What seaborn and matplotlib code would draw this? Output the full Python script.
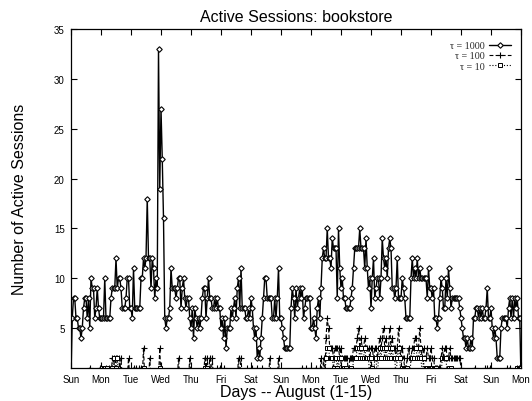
import numpy as np
import pandas as pd
import matplotlib
matplotlib.use("Agg")
import matplotlib.pyplot as plt
import seaborn as sns

# Day-of-week labels for the 15 days (Aug 1-15) plus the closing Monday
day_labels = ["Sun", "Mon", "Tue", "Wed", "Thu", "Fri", "Sat",
              "Sun", "Mon", "Tue", "Wed", "Thu", "Fri", "Sat", "Sun", "Mon"]
y_ticks = [5, 10, 15, 20, 25, 30, 35]

# Hourly active-session counts, one row of 24 per day, plus the closing sample
tau1000_by_day = [
    [0, 6, 8, 8, 6, 6, 5, 5, 4, 5, 7, 8, 8, 6, 8, 5, 10, 9, 9, 6, 7, 9, 7, 6],
    [6, 6, 6, 10, 6, 6, 6, 6, 8, 9, 9, 9, 12, 9, 10, 10, 9, 7, 7, 7, 8, 10, 10, 7],
    [7, 6, 11, 7, 7, 7, 7, 7, 10, 10, 12, 11, 12, 18, 12, 12, 9, 12, 11, 8, 10, 9, 33, 19],
    [27, 22, 16, 6, 5, 6, 6, 7, 11, 9, 9, 9, 8, 9, 10, 10, 7, 9, 10, 8, 7, 8, 8, 6],
    [5, 7, 4, 7, 6, 5, 6, 5, 6, 8, 9, 9, 6, 8, 10, 8, 8, 7, 7, 8, 7, 8, 7, 7],
    [5, 6, 4, 6, 3, 5, 5, 5, 7, 6, 7, 8, 6, 9, 10, 7, 11, 7, 7, 7, 6, 6, 7, 6],
    [8, 7, 5, 4, 5, 2, 3, 2, 4, 6, 8, 10, 10, 8, 8, 8, 8, 6, 6, 8, 6, 8, 11, 6],
    [6, 5, 4, 3, 3, 3, 3, 3, 7, 9, 8, 6, 9, 7, 8, 9, 8, 9, 6, 7, 8, 8, 8, 8],
    [5, 5, 6, 5, 4, 7, 8, 6, 9, 12, 13, 12, 12, 15, 12, 12, 11, 14, 13, 13, 13, 8, 15, 11],
    [9, 10, 8, 8, 7, 7, 7, 7, 8, 9, 11, 13, 13, 13, 13, 15, 13, 13, 13, 11, 14, 11, 9, 10],
    [7, 10, 12, 8, 9, 10, 10, 8, 10, 14, 12, 11, 12, 10, 13, 14, 13, 9, 9, 8, 9, 12, 8, 8],
    [8, 10, 9, 8, 6, 6, 6, 6, 10, 12, 10, 11, 10, 12, 10, 11, 10, 10, 10, 10, 10, 8, 11, 9],
    [9, 8, 9, 6, 6, 5, 6, 8, 10, 9, 7, 7, 10, 8, 11, 9, 7, 8, 8, 8, 8, 8, 8, 7],
    [6, 5, 4, 4, 3, 4, 3, 3, 4, 3, 6, 6, 7, 7, 6, 7, 6, 7, 6, 6, 7, 9, 6, 6],
    [7, 5, 4, 5, 4, 2, 2, 2, 5, 6, 6, 6, 6, 5, 7, 8, 6, 8, 6, 8, 7, 8, 6, 6],
]
tau1000_last = 0

tau100_by_day = [
    [0, 0, 0, 0, 0, 0, 0, 0, 0, 0, 0, 0, 0, 0, 0, 1, 0, 0, 0, 0, 0, 0, 0, 1],
    [0, 0, 0, 0, 1, 0, 1, 0, 0, 2, 2, 1, 2, 2, 2, 1, 2, 0, 0, 0, 0, 0, 2, 0],
    [0, 0, 1, 0, 1, 0, 1, 0, 1, 0, 3, 0, 0, 0, 0, 2, 0, 0, 0, 0, 0, 0, 0, 3],
    [0, 0, 0, 0, 0, 0, 0, 0, 0, 0, 0, 0, 0, 0, 2, 0, 0, 0, 0, 0, 0, 0, 0, 2],
    [0, 0, 0, 0, 0, 0, 0, 0, 0, 0, 0, 2, 1, 2, 0, 2, 0, 2, 0, 0, 0, 1, 0, 1],
    [0, 0, 1, 0, 0, 0, 0, 0, 0, 0, 0, 0, 0, 0, 2, 0, 2, 0, 0, 0, 0, 1, 0, 0],
    [0, 1, 0, 0, 0, 1, 0, 0, 0, 1, 0, 0, 0, 0, 0, 2, 0, 0, 0, 0, 0, 0, 2, 0],
    [0, 0, 0, 0, 0, 0, 0, 0, 0, 0, 0, 0, 0, 0, 0, 0, 0, 1, 0, 0, 1, 0, 0, 0],
    [1, 0, 0, 0, 1, 0, 0, 0, 2, 0, 2, 0, 4, 6, 5, 3, 3, 3, 2, 3, 3, 3, 3, 2],
    [3, 2, 2, 2, 2, 2, 0, 2, 2, 2, 3, 3, 3, 4, 5, 3, 4, 3, 3, 4, 3, 3, 3, 2],
    [3, 3, 2, 3, 3, 2, 3, 4, 3, 4, 5, 3, 4, 3, 3, 5, 3, 4, 3, 3, 2, 3, 5, 3],
    [2, 3, 2, 1, 1, 2, 3, 2, 2, 3, 3, 4, 4, 3, 3, 5, 3, 2, 3, 2, 2, 3, 2, 2],
    [3, 2, 2, 1, 1, 1, 1, 1, 2, 3, 2, 3, 3, 2, 2, 3, 2, 2, 2, 2, 2, 2, 2, 2],
    [1, 0, 0, 0, 0, 0, 0, 0, 0, 0, 0, 1, 0, 0, 0, 0, 0, 0, 0, 1, 0, 1, 0, 1],
    [0, 0, 0, 0, 0, 0, 0, 0, 0, 0, 0, 0, 0, 1, 0, 1, 0, 0, 0, 0, 0, 1, 1, 1],
]
tau100_last = 1

tau10_by_day = [
    [0] * 24,
    [0, 1, 1, 1, 0, 1, 0, 0, 0, 1, 2, 0, 1, 2, 0, 0, 0, 0, 0, 0, 0, 0, 0, 0],
    [0, 0, 0, 0, 0, 0, 0, 0, 0, 0, 1, 0, 0, 0, 0, 0, 0, 0, 0, 0, 0, 0, 0, 1],
    [0] * 24,
    [0, 0, 0, 0, 0, 0, 0, 0, 0, 0, 0, 1, 0, 1, 0, 0, 0, 0, 0, 0, 0, 0, 0, 0],
    [0] * 24,
    [0] * 24,
    [0] * 24,
    [0, 0, 0, 0, 0, 0, 0, 0, 0, 0, 0, 0, 2, 3, 3, 2, 2, 2, 1, 2, 2, 1, 2, 0],
    [2, 0, 1, 0, 1, 0, 0, 0, 1, 0, 2, 2, 2, 3, 3, 2, 3, 2, 2, 3, 2, 2, 2, 0],
    [2, 1, 0, 2, 2, 0, 2, 3, 2, 3, 3, 2, 3, 2, 2, 3, 2, 3, 2, 2, 0, 2, 3, 2],
    [0, 1, 1, 1, 1, 1, 0, 0, 2, 2, 2, 3, 3, 2, 2, 3, 2, 0, 2, 0, 1, 1, 1, 1],
    [1, 1, 1, 1, 1, 0, 0, 0, 0, 2, 2, 2, 2, 0, 1, 0, 1, 0, 0, 0, 0, 0, 0, 0],
    [0] * 24,
    [0] * 21 + [1, 1, 1],
]
tau10_last = 1


def hourly(rows, last):
    vals = [v for row in rows for v in row] + [last]
    assert len(vals) == 24 * len(rows) + 1
    return np.array(vals, dtype=float)


hours = np.arange(24 * 15 + 1)
df = pd.DataFrame({
    "day": hours / 24.0,
    "t1000": hourly(tau1000_by_day, tau1000_last),
    "t100": hourly(tau100_by_day, tau100_last),
    "t10": hourly(tau10_by_day, tau10_last),
})

sns.set_theme(style="ticks")
plt.rcParams["font.family"] = ["Liberation Sans", "DejaVu Sans"]
plt.rcParams["axes.edgecolor"] = "black"
plt.rcParams["axes.linewidth"] = 0.9

fig = plt.figure(figsize=(5.32, 4.02), dpi=100)
ax = fig.add_axes([71 / 532, 33 / 402, 450 / 532, 339 / 402])

sns.lineplot(data=df, x="day", y="t1000", ax=ax, estimator=None,
             color="black", lw=1.0, marker="D", ms=2.8,
             mfc="white", mec="black", mew=0.8, label="τ = 1000")
sns.lineplot(data=df, x="day", y="t100", ax=ax, estimator=None,
             color="black", lw=0.8, linestyle=(0, (3.5, 2)), marker="+",
             ms=4.5, mec="black", mew=0.8, label="τ = 100")
sns.lineplot(data=df, x="day", y="t10", ax=ax, estimator=None,
             color="black", lw=0.8, linestyle=(0, (1, 1.6)), marker="s",
             ms=2.8, mfc="white", mec="black", mew=0.7, label="τ = 10")

ax.set_xlim(0, 15)
ax.set_ylim(1, 35)
ax.set_xticks(np.arange(len(day_labels)))
ax.set_xticklabels(day_labels)
ax.set_yticks(y_ticks)
ax.tick_params(direction="in", top=True, right=True, length=4, width=0.8,
               labelsize=7, color="black", labelcolor="black")
ax.tick_params(axis="x", pad=4.5)
ax.tick_params(axis="y", pad=4.5)

ax.set_title("Active Sessions: bookstore", fontsize=11.5, pad=5.5, color="black")
ax.set_xlabel("Days -- August (1-15)", fontsize=11.5, color="black")
ax.set_ylabel("Number of Active Sessions", fontsize=11.5, color="black")
ax.xaxis.set_label_coords(0.5, -0.048)
ax.yaxis.set_label_coords(-0.098, 0.5)

leg = ax.legend(loc="upper right", bbox_to_anchor=(511 / 532, 360 / 402),
                bbox_transform=fig.transFigure, frameon=False, markerfirst=False,
                borderpad=0, borderaxespad=0, handlelength=2.2, handletextpad=0.4,
                labelspacing=0.14, prop={"family": ["Liberation Serif", "DejaVu Serif"], "size": 7.2})
for t in leg.get_texts():
    t.set_ha("right")

fig.savefig("out.png", dpi=100)
